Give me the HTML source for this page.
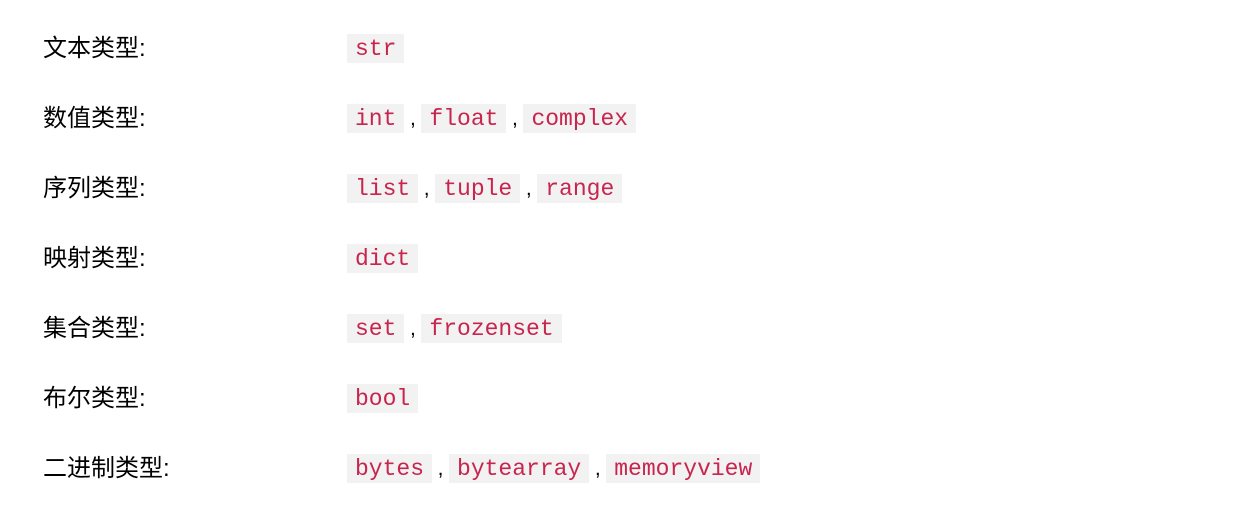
<!DOCTYPE html>
<html><head><meta charset="utf-8"><style>
html,body{margin:0;padding:0;background:#fff;width:1243px;height:519px;overflow:hidden}
.row{position:absolute;left:0;height:30px;width:1243px}
.lab{position:absolute;left:43px;top:0;line-height:30px;font-size:24px;color:#000;font-family:"Liberation Sans","Noto Sans CJK SC",sans-serif}
.val{position:absolute;left:347px;top:0;line-height:30px;font-size:21px;color:#000;font-family:"Liberation Sans",sans-serif;white-space:nowrap}
code{display:inline-block;background:#f2f2f2;color:#c7254e;font-family:"Liberation Mono",monospace;font-size:23px;line-height:30px;height:29px;padding:0 8px;vertical-align:top}
.c{display:inline-block;width:17px;text-align:center;vertical-align:top}
</style></head><body>
<div class="row" style="top:34px"><span class="lab">文本类型:</span><span class="val"><code>str</code></span></div>
<div class="row" style="top:104px"><span class="lab">数值类型:</span><span class="val"><code>int</code><span class="c">,</span><code>float</code><span class="c">,</span><code>complex</code></span></div>
<div class="row" style="top:174px"><span class="lab">序列类型:</span><span class="val"><code>list</code><span class="c">,</span><code>tuple</code><span class="c">,</span><code>range</code></span></div>
<div class="row" style="top:244px"><span class="lab">映射类型:</span><span class="val"><code>dict</code></span></div>
<div class="row" style="top:314px"><span class="lab">集合类型:</span><span class="val"><code>set</code><span class="c">,</span><code>frozenset</code></span></div>
<div class="row" style="top:384px"><span class="lab">布尔类型:</span><span class="val"><code>bool</code></span></div>
<div class="row" style="top:454px"><span class="lab">二进制类型:</span><span class="val"><code>bytes</code><span class="c">,</span><code>bytearray</code><span class="c">,</span><code>memoryview</code></span></div>
</body></html>
